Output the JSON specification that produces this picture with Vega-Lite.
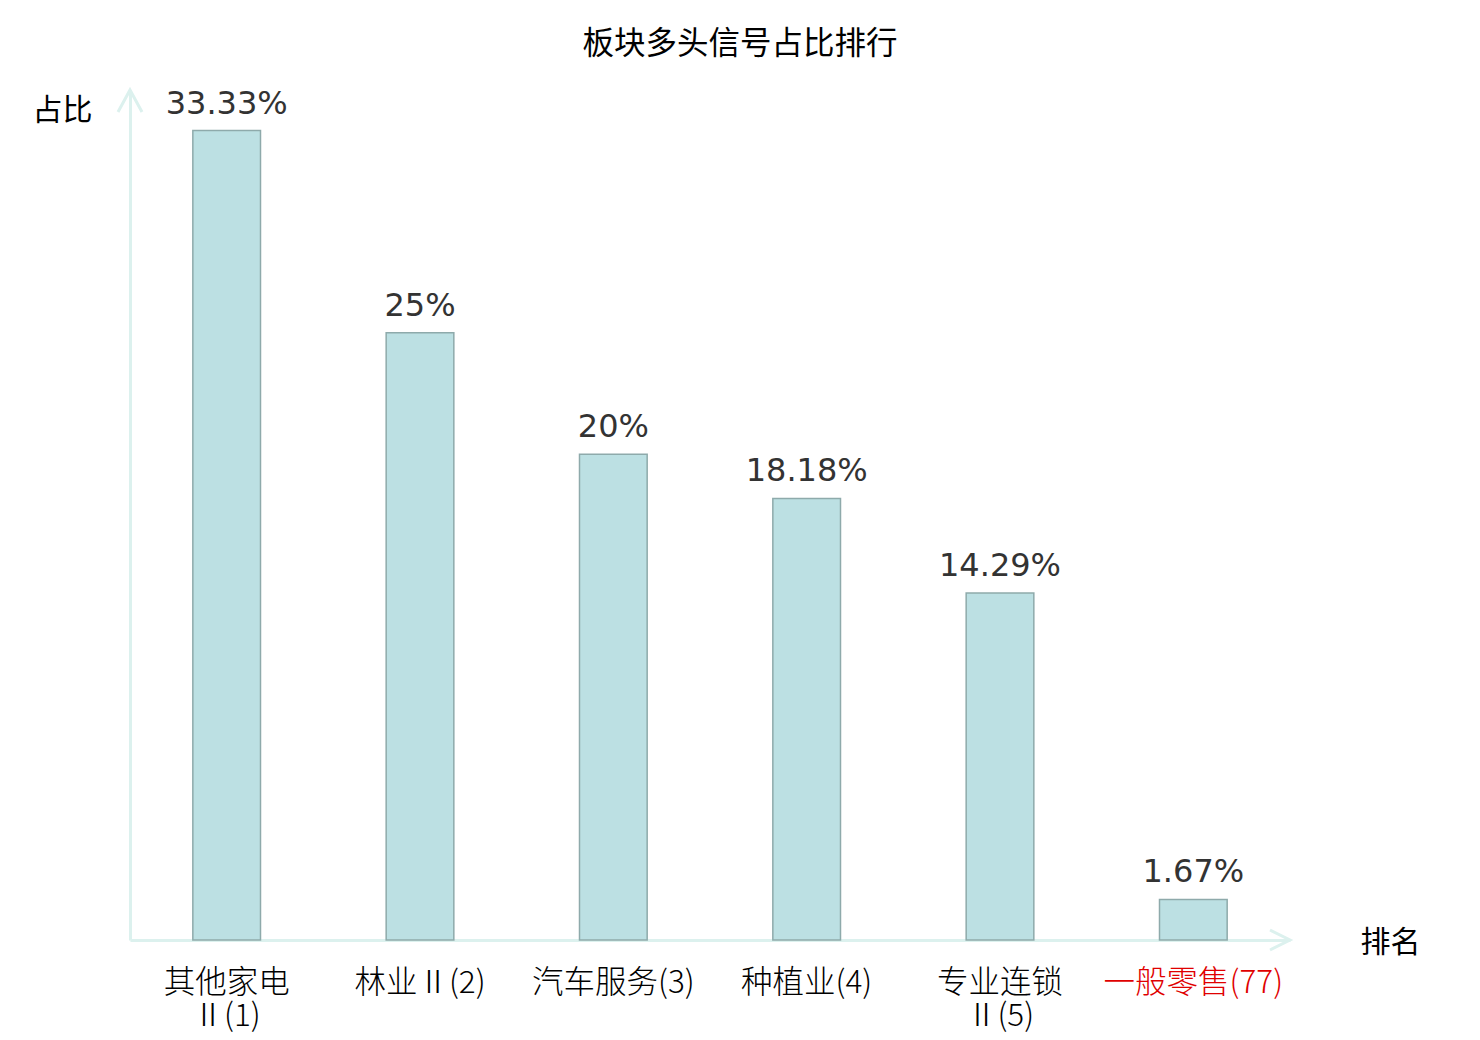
{
  "$schema": "https://vega.github.io/schema/vega-lite/v6.json",
  "width": 1160,
  "height": 850,
  "autosize": "none",
  "padding": {"left": 130, "top": 90, "right": 190, "bottom": 100},
  "background": "white",
  "title": {
    "text": "板块多头信号占比排行",
    "font": "Noto Sans CJK SC",
    "fontSize": 31.5,
    "fontWeight": "normal",
    "color": "#000000",
    "anchor": "middle",
    "dx": 30,
    "offset": 24
  },
  "config": {"view": {"stroke": null}},
  "layer": [
    {
      "data": {
        "values": [
          {"板块": "其他家电Ⅱ(1)", "占比": 0.3333},
          {"板块": "林业Ⅱ(2)", "占比": 0.25},
          {"板块": "汽车服务(3)", "占比": 0.2},
          {"板块": "种植业(4)", "占比": 0.1818},
          {"板块": "专业连锁Ⅱ(5)", "占比": 0.1429},
          {"板块": "一般零售(77)", "占比": 0.0167}
        ]
      },
      "encoding": {
        "x": {
          "field": "板块",
          "type": "nominal",
          "sort": null,
          "scale": {"paddingInner": 0.65, "paddingOuter": 0.325},
          "axis": {
            "title": "排名",
            "titleFont": "Noto Sans CJK SC",
            "titleFontSize": 30,
            "titleFontWeight": "normal",
            "titleColor": "#000000",
            "titleX": 1260,
            "titleY": 2,
            "titleAlign": "center",
            "titleBaseline": "middle",
            "domainColor": "#dcf1ee",
            "domainWidth": 3,
            "ticks": false,
            "labelAngle": 0,
            "labelFont": "Noto Sans CJK SC",
            "labelFontSize": 31.5,
            "labelFontWeight": 300,
            "labelPadding": 27,
            "labelLineHeight": 33,
            "labelBaseline": "top",
            "labelColor": {
              "condition": {"test": "datum.label == '一般零售(77)'", "value": "#e00000"},
              "value": "#000000"
            },
            "labelExpr": "datum.label == '其他家电Ⅱ(1)' ? ['其他家电', 'Ⅱ(1)'] : datum.label == '专业连锁Ⅱ(5)' ? ['专业连锁', 'Ⅱ(5)'] : datum.label"
          }
        },
        "y": {
          "field": "占比",
          "type": "quantitative",
          "scale": {"domain": [0, 0.35]},
          "axis": {
            "title": "占比",
            "titleFont": "Noto Sans CJK SC",
            "titleFontSize": 30,
            "titleFontWeight": "normal",
            "titleColor": "#000000",
            "titleAngle": 0,
            "titleX": -68,
            "titleY": 20,
            "titleAlign": "center",
            "titleBaseline": "middle",
            "domainColor": "#dcf1ee",
            "domainWidth": 3,
            "ticks": false,
            "labels": false,
            "grid": false
          }
        }
      },
      "layer": [
        {
          "mark": {"type": "bar", "fill": "#bce0e3", "stroke": "#8eaaab", "strokeWidth": 1.5}
        },
        {
          "mark": {
            "type": "text",
            "font": "DejaVu Sans",
            "fontSize": 32,
            "color": "#333333",
            "baseline": "alphabetic",
            "dy": -17
          },
          "encoding": {
            "text": {"field": "占比", "type": "quantitative", "format": ".2~%"}
          }
        }
      ]
    },
    {
      "data": {
        "values": [
          {"轴": "x", "px": 1, "py": 0},
          {"轴": "y", "px": 0, "py": 0.35}
        ]
      },
      "mark": {"type": "point", "filled": false, "strokeWidth": 3, "color": "#dcf1ee", "opacity": 1, "size": 400},
      "encoding": {
        "x": {"field": "px", "type": "quantitative", "scale": {"domain": [0, 1]}, "axis": null},
        "y": {"field": "py", "type": "quantitative"},
        "shape": {
          "field": "轴",
          "type": "nominal",
          "scale": {"domain": ["x", "y"], "range": ["M-2,-1L0,0L-2,1", "M-1.2,2.2L0,0L1.2,2.2"]},
          "legend": null
        }
      }
    }
  ],
  "resolve": {"scale": {"x": "independent"}}
}
